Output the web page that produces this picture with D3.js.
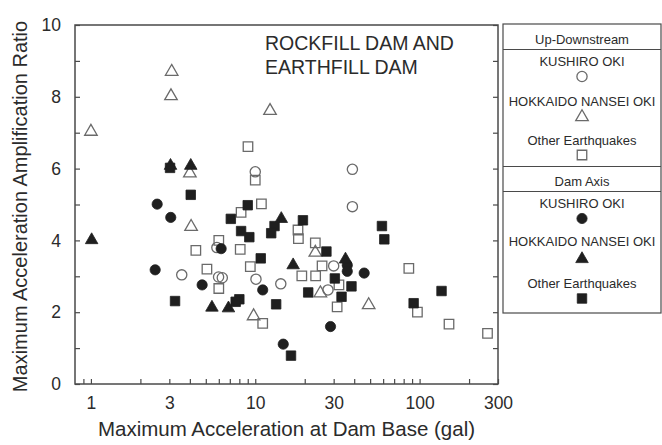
<!DOCTYPE html>
<html><head><meta charset="utf-8">
<script src="https://cdn.jsdelivr.net/npm/d3@7"></script>
<style>
body{margin:0;background:#fff}
text{font-family:"Liberation Sans",Arial,Helvetica,sans-serif;fill:#2b2b2b}
</style>
</head><body>
<svg id="c" width="662" height="445"></svg>
<script>
// ---- data ----
// Up-Downstream (open markers)
const udKushiroX = [10.0, 39, 39, 5.84, 3.57, 5.98, 6.3, 10.1, 14.3, 30, 27.7];
const udKushiroY = [5.91, 5.98, 4.94, 3.80, 3.04, 2.98, 2.96, 2.92, 2.79, 3.29, 2.62];
const udHokkaidoX = [1.0, 3.1, 3.07, 12.3, 4.0, 4.07, 23.2, 24.9, 49, 9.77];
const udHokkaidoY = [7.03, 8.70, 8.02, 7.61, 5.87, 4.38, 3.66, 2.53, 2.20, 1.89];
const udOtherX = [9.03, 10.0, 10.9, 8.2, 18.2, 18.3, 6.0, 4.35, 8.1, 23.2, 5.08, 9.33, 25.5, 19.2, 23.3, 32.3, 6.0, 31.5, 11.1, 86, 97, 151, 259];
const udOtherY = [6.61, 5.68, 5.02, 4.78, 4.29, 4.05, 4.00, 3.72, 3.75, 3.93, 3.20, 3.27, 3.29, 3.01, 3.01, 2.76, 2.66, 2.15, 1.69, 3.22, 2.00, 1.67, 1.41];
// Dam Axis (filled markers)
const daKushiroX = [2.53, 3.06, 6.2, 2.46, 4.75, 11.1, 36.3, 36.3, 46, 28.7, 14.8];
const daKushiroY = [5.01, 4.64, 3.77, 3.18, 2.76, 2.62, 3.31, 3.14, 3.09, 1.60, 1.11];
const daHokkaidoX = [1.01, 3.05, 4.05, 14.4, 17.0, 35.4, 5.45, 6.87];
const daHokkaidoY = [4.01, 6.08, 6.08, 4.60, 3.31, 3.47, 2.13, 2.11];
const daOtherX = [3.03, 4.05, 9.0, 7.1, 8.2, 9.2, 13.1, 12.5, 19.5, 10.8, 27.1, 30.5, 38.5, 21.0, 33.5, 3.25, 8.0, 7.6, 13.4, 16.5, 59, 61, 92, 136];
const daOtherY = [6.02, 5.27, 4.98, 4.60, 4.26, 4.09, 4.40, 4.20, 4.56, 3.50, 3.69, 2.94, 2.72, 2.55, 2.43, 2.31, 2.36, 2.29, 2.22, 0.79, 4.40, 4.03, 2.25, 2.59];

const xTickVals = [0.9,1,2,3,4,5,6,7,8,9,10,20,30,40,50,60,70,80,90,100,200,300];
const xTickLabels = [1,3,10,30,100,300];
const yTickVals = [0,1,2,3,4,5,6,7,8,9,10];
const yTickLabels = [0,2,4,6,8,10];

const legendGroups = ["Up-Downstream", "Dam Axis"];
const legendNames = ["KUSHIRO OKI", "HOKKAIDO NANSEI OKI", "Other Earthquakes"];

// ---- chart ----
const svg = d3.select("#c");
const L = 75, R = 498, T = 25, B = 384;
const x = d3.scaleLog().domain([0.8, 300]).range([L, R]);
const y = d3.scaleLinear().domain([0, 10]).range([B, T]);

const OPEN = "#6a6a6a", FILL = "#1f1f1f", AX = "#4a4a4a";

const symCircle = d3.symbol().type(d3.symbolCircle).size(82)();
const symSquare = d3.symbol().type(d3.symbolSquare).size(90)();
const symTri = d3.symbol().type(d3.symbolTriangle).size(68)();
const shapes = [symCircle, symTri, symSquare];

const series = [
  {xs: udKushiroX, ys: udKushiroY, shape: 0, open: true},
  {xs: udHokkaidoX, ys: udHokkaidoY, shape: 1, open: true},
  {xs: udOtherX, ys: udOtherY, shape: 2, open: true},
  {xs: daKushiroX, ys: daKushiroY, shape: 0, open: false},
  {xs: daHokkaidoX, ys: daHokkaidoY, shape: 1, open: false},
  {xs: daOtherX, ys: daOtherY, shape: 2, open: false},
];

// frame
svg.append("rect").attr("x", L).attr("y", T).attr("width", R - L).attr("height", B - T)
  .attr("fill", "none").attr("stroke", AX).attr("stroke-width", 1.5);

// axes
const fmt = v => d3.format("")(v);
const xAxis = d3.axisBottom(x).tickValues(xTickVals).tickSize(-5).tickPadding(13)
  .tickFormat(d => xTickLabels.some(v => Math.abs(v - d) < 1e-9) ? fmt(d) : "");
const gx = svg.append("g").attr("transform", `translate(0,${B})`).call(xAxis);
gx.select(".domain").remove();
gx.selectAll("line").attr("stroke", AX).attr("stroke-width", 1.2);
gx.selectAll("text").attr("font-size", 17.5).attr("fill", "#2b2b2b");

const yAxis = d3.axisLeft(y).tickValues(yTickVals).tickSize(-5).tickPadding(14)
  .tickFormat(d => yTickLabels.includes(d) ? fmt(d) : "");
const gy = svg.append("g").attr("transform", `translate(${L},0)`).call(yAxis);
gy.select(".domain").remove();
gy.selectAll("line").attr("stroke", AX).attr("stroke-width", 1.2);
gy.selectAll("text").attr("font-size", 17.5).attr("fill", "#2b2b2b");

const yAxisR = d3.axisRight(y).tickValues(yTickVals).tickSize(-5).tickFormat("");
const gyr = svg.append("g").attr("transform", `translate(${R},0)`).call(yAxisR);
gyr.select(".domain").remove();
gyr.selectAll("line").attr("stroke", AX).attr("stroke-width", 1.2);

// axis titles
svg.append("text").attr("x", (L + R) / 2).attr("y", 436).attr("text-anchor", "middle")
  .attr("font-size", 20.5).text("Maximum Acceleration at Dam Base (gal)");
svg.append("text").attr("transform", `translate(27,${(T + B) / 2 + 2}) rotate(-90)`)
  .attr("text-anchor", "middle").attr("font-size", 20)
  .text("Maximum Acceleration Amplification Ratio");

// chart title
svg.append("text").attr("x", 265).attr("y", 50).attr("font-size", 19.5).text("ROCKFILL DAM AND");
svg.append("text").attr("x", 265).attr("y", 73.5).attr("font-size", 19.5).text("EARTHFILL DAM");

// points
series.forEach(s => {
  const pts = s.xs.map((v, i) => [v, s.ys[i]]);
  svg.append("g").selectAll("path").data(pts).join("path")
    .attr("d", shapes[s.shape])
    .attr("transform", d => `translate(${x(d[0])},${y(d[1])})`)
    .attr("fill", s.open ? "none" : FILL)
    .attr("stroke", s.open ? OPEN : FILL)
    .attr("stroke-width", s.open ? 1.3 : 0.8);
});

// legend
const lg = svg.append("g");
const LX0 = 503, LX1 = 661, cx = (LX0 + LX1) / 2;
lg.append("rect").attr("x", LX0).attr("y", 24).attr("width", LX1 - LX0).attr("height", 289)
  .attr("fill", "none").attr("stroke", AX).attr("stroke-width", 1.2);
[49.5, 166.5, 191.5].forEach(yy => lg.append("line").attr("x1", LX0).attr("x2", LX1)
  .attr("y1", yy).attr("y2", yy).attr("stroke", AX).attr("stroke-width", 1.2));
const groupY = [39, 181.5];
const nameY = [[61.5, 101.5, 140], [203.5, 241.5, 283.5]];
const symY = [[76.5, 117, 155], [218.5, 259, 298.5]];
legendGroups.forEach((g, gi) => {
  lg.append("text").attr("x", cx).attr("y", groupY[gi] + 4.5).attr("text-anchor", "middle")
    .attr("font-size", 13).text(g);
  legendNames.forEach((n, ni) => {
    lg.append("text").attr("x", cx).attr("y", nameY[gi][ni] + 4.5).attr("text-anchor", "middle")
      .attr("font-size", 13).text(n);
    const open = gi === 0;
    lg.append("path").attr("d", shapes[ni])
      .attr("transform", `translate(${cx},${symY[gi][ni]})`)
      .attr("fill", open ? "none" : FILL).attr("stroke", open ? OPEN : FILL)
      .attr("stroke-width", open ? 1.3 : 0.8);
  });
});
</script>
</body></html>
